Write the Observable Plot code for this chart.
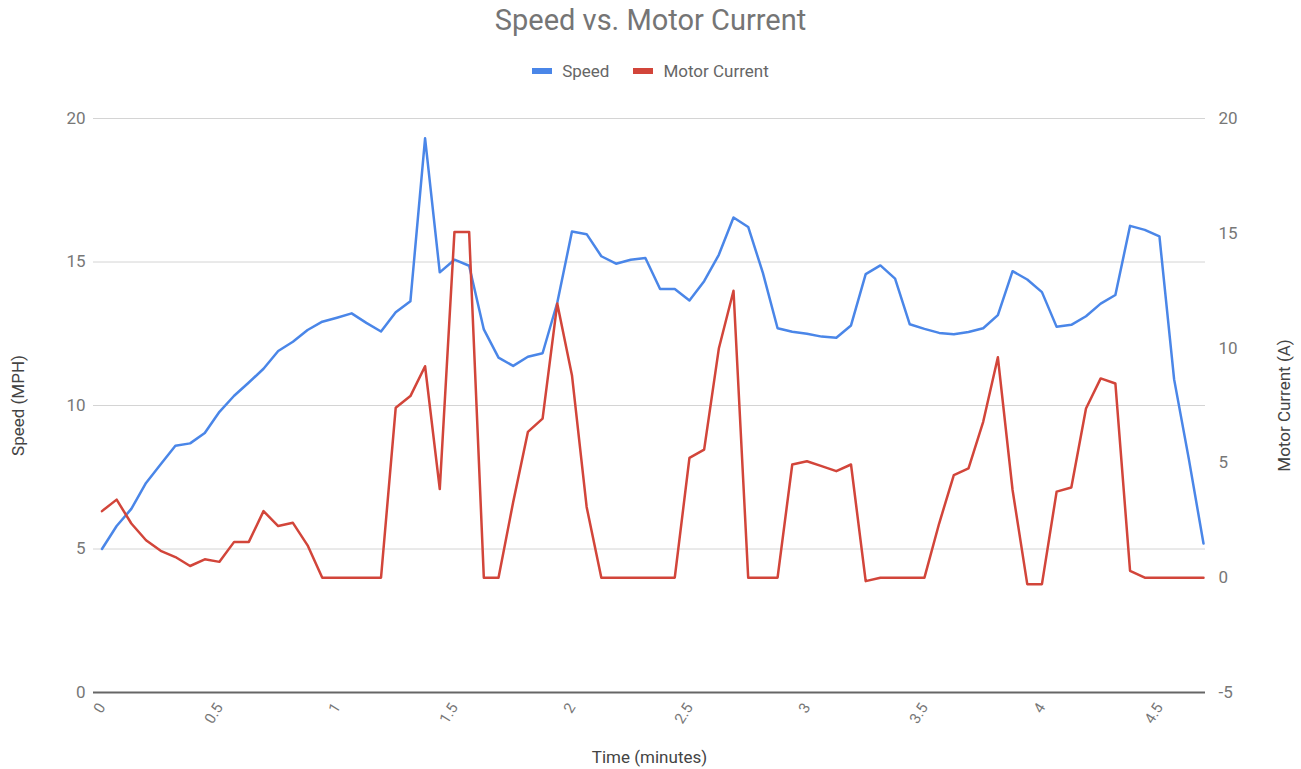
<!DOCTYPE html>
<html>
<head>
<meta charset="utf-8">
<script src="https://cdn.jsdelivr.net/npm/d3@7"></script>
<script src="https://cdn.jsdelivr.net/npm/@observablehq/plot@0.6"></script>
<style>
  body { margin: 0; background: #fff; font-family: Roboto, "Noto Sans", sans-serif; }
  #wrap { position: relative; width: 1301px; height: 769px; overflow: hidden; }
  #title { position: absolute; top: 2px; left: 0; width: 1301px; text-align: center; font-size: 29px; line-height: 36px; color: #757575; }
  #legend { position: absolute; top: 60px; left: 0; width: 1301px; display: flex; justify-content: center; align-items: center; font-size: 17px; line-height: 22px; color: #666; }
  .item { display: flex; align-items: center; margin: 0 12px; }
  .sw { width: 20px; height: 6px; margin-right: 10px; }
  #chart { position: absolute; top: 100px; left: 0; }
</style>
</head>
<body>
<div id="wrap">
  <div id="title">Speed vs. Motor Current</div>
  <div id="legend"></div>
  <div id="chart"></div>
</div>
<script>
// Time (minutes)
const time = [0, 0.0625, 0.125, 0.1875, 0.25, 0.3125, 0.375, 0.4375, 0.5, 0.5625, 0.625, 0.6875, 0.75, 0.8125, 0.875, 0.9375,
  1, 1.0625, 1.125, 1.1875, 1.25, 1.3125, 1.375, 1.4375, 1.5, 1.5625, 1.625, 1.6875, 1.75, 1.8125, 1.875, 1.9375,
  2, 2.0625, 2.125, 2.1875, 2.25, 2.3125, 2.375, 2.4375, 2.5, 2.5625, 2.625, 2.6875, 2.75, 2.8125, 2.875, 2.9375,
  3, 3.0625, 3.125, 3.1875, 3.25, 3.3125, 3.375, 3.4375, 3.5, 3.5625, 3.625, 3.6875, 3.75, 3.8125, 3.875, 3.9375,
  4, 4.0625, 4.125, 4.1875, 4.25, 4.3125, 4.375, 4.4375, 4.5, 4.5625, 4.625, 4.6875];

// Speed (MPH)
const speed = [5.0, 5.8, 6.4, 7.3, 7.95, 8.6, 8.68, 9.04, 9.78, 10.34, 10.8, 11.28, 11.9, 12.22, 12.63, 12.92,
  13.06, 13.21, 12.88, 12.58, 13.25, 13.63, 19.31, 14.64, 15.08, 14.87, 12.65, 11.67, 11.38, 11.7, 11.82, 13.58,
  16.06, 15.97, 15.2, 14.94, 15.08, 15.14, 14.06, 14.06, 13.66, 14.33, 15.25, 16.55, 16.22, 14.62, 12.69, 12.57,
  12.5, 12.4, 12.36, 12.79, 14.58, 14.88, 14.42, 12.83, 12.67, 12.53, 12.48, 12.56, 12.69, 13.15, 14.68, 14.39,
  13.95, 12.74, 12.81, 13.11, 13.55, 13.85, 16.26, 16.12, 15.89, 10.91, 8.14, 5.19];

// Motor Current (A)
const current = [2.9, 3.4, 2.36, 1.63, 1.17, 0.9, 0.51, 0.8, 0.69, 1.56, 1.56, 2.9, 2.25, 2.39, 1.41, 0,
  0, 0, 0, 0, 7.4, 7.91, 9.21, 3.86, 15.06, 15.06, 0, 0, 3.3, 6.35, 6.93, 11.94,
  8.82, 3.08, 0, 0, 0, 0, 0, 0, 5.22, 5.58, 9.98, 12.5, 0, 0, 0, 4.93,
  5.07, 4.86, 4.64, 4.93, -0.15, 0, 0, 0, 0, 2.36, 4.47, 4.76, 6.79, 9.6, 3.82, -0.28,
  -0.28, 3.75, 3.93, 7.37, 8.68, 8.46, 0.3, 0, 0, 0, 0, 0];

const xTicks = [0, 0.5, 1, 1.5, 2, 2.5, 3, 3.5, 4, 4.5];
const leftTicks = [0, 5, 10, 15, 20];
const rightTicks = [-5, 0, 5, 10, 15, 20];

const seriesNames = ["Speed", "Motor Current"];
const seriesColors = ["#4a86e8", "#d2453a"];

const data = time.map((t, i) => ({ t, speed: speed[i], current: current[i] }));

// map right-axis (current, -5..20) onto left-axis units (speed, 0..20)
const cur2y = c => (c + 5) * 20 / 25;
const y2cur = v => Math.round(v * 25 / 20 - 5);

const legend = document.getElementById("legend");
seriesNames.forEach((n, i) => {
  const it = document.createElement("div");
  it.className = "item";
  it.innerHTML = `<span class="sw" style="background:${seriesColors[i]}"></span><span>${n}</span>`;
  legend.appendChild(it);
});

const chart = Plot.plot({
  width: 1301,
  height: 669,
  marginLeft: 93,
  marginRight: 96,
  marginTop: 18,
  marginBottom: 77,
  style: { fontFamily: "Roboto, sans-serif", fontSize: "17px", background: "white", overflow: "visible" },
  x: { domain: [-0.036, 4.696] },
  y: { domain: [0, 20] },
  marks: [
    Plot.gridY([5, 10, 15, 20], { stroke: "#d4d4d4", strokeOpacity: 1, strokeWidth: 1 }),
    Plot.axisY(leftTicks, { anchor: "left", tickSize: 0, tickPadding: 8, label: null, color: "#777" }),
    Plot.axisY(rightTicks.map(cur2y), { anchor: "right", tickSize: 0, tickPadding: 13, tickFormat: y2cur, label: null, color: "#777" }),
    Plot.axisX(xTicks, { anchor: "bottom", tickSize: 0, tickPadding: 12, tickRotate: -58, tickFormat: d => String(d), label: null, color: "#777", fontSize: 15 }),
    Plot.text(["Speed (MPH)"], { frameAnchor: "left", dx: -75, rotate: -90, textAnchor: "middle", fill: "#444", fontSize: 17 }),
    Plot.text(["Motor Current (A)"], { frameAnchor: "right", dx: 79, rotate: -90, textAnchor: "middle", fill: "#444", fontSize: 17 }),
    Plot.text(["Time (minutes)"], { frameAnchor: "bottom", dy: 65, lineAnchor: "middle", textAnchor: "middle", fill: "#444", fontSize: 17 }),
    Plot.line(data, { x: "t", y: "speed", stroke: seriesColors[0], strokeWidth: 2.5 }),
    Plot.line(data, { x: "t", y: d => cur2y(d.current), stroke: seriesColors[1], strokeWidth: 2.5 }),
    Plot.ruleY([0], { stroke: "#666", strokeWidth: 2 })
  ]
});
document.getElementById("chart").appendChild(chart);
</script>
</body>
</html>
